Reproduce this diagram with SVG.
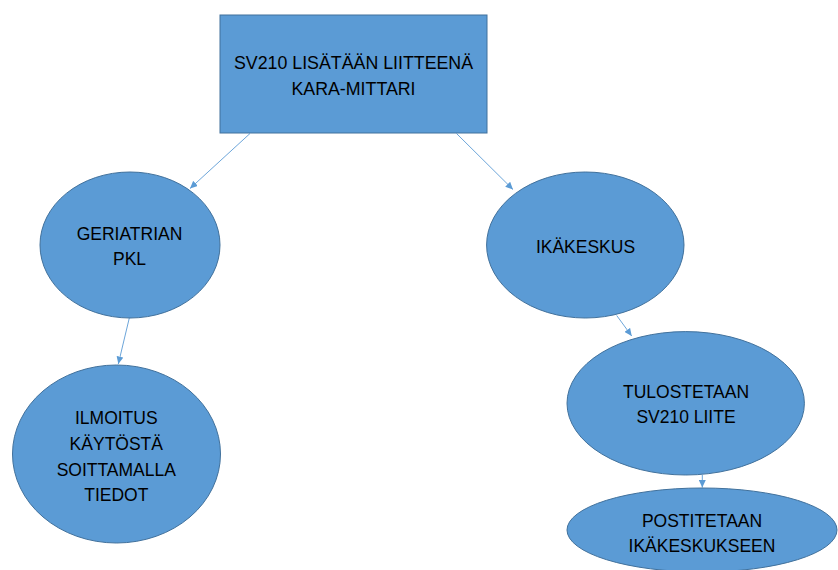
<svg xmlns="http://www.w3.org/2000/svg" width="838" height="570" viewBox="0 0 838 570">
<style>
.shape{fill:#5B9BD5;stroke:#41719C;stroke-width:1}
.lbl{font-family:"Liberation Sans",Arial,sans-serif;font-size:17.5px;fill:#000;text-anchor:middle}
.conn{stroke:#5B9BD5;stroke-width:0.9;fill:none;marker-end:url(#arr)}
</style>
<defs>
<marker id="arr" markerUnits="userSpaceOnUse" markerWidth="8" markerHeight="7" refX="7.5" refY="3.5" orient="auto">
<path d="M0,0 L7.5,3.5 L0,7 z" fill="#5B9BD5"/>
</marker>
</defs>
<rect width="838" height="570" fill="#fff"/>
<g id="connectors">
<line class="conn" x1="250" y1="133.5" x2="190" y2="188.5"/>
<line class="conn" x1="456.5" y1="133.5" x2="513" y2="189.5"/>
<line class="conn" x1="129.3" y1="318" x2="118.3" y2="364"/>
<line class="conn" x1="616.7" y1="315.5" x2="631.7" y2="336"/>
<line class="conn" x1="702.3" y1="475" x2="702.3" y2="487.5"/>
</g>
<g id="n-sv210">
<rect class="shape" x="220" y="15" width="267" height="118"/>
<text class="lbl" style="font-size:17.8px" x="353.5" y="68.5">SV210 LISÄTÄÄN LIITTEENÄ</text>
<text class="lbl" style="font-size:17.8px" x="353.5" y="95">KARA-MITTARI</text>
</g>
<g id="n-geriatrian">
<ellipse class="shape" cx="130" cy="245" rx="90" ry="73"/>
<text class="lbl" x="129.5" y="240">GERIATRIAN</text>
<text class="lbl" x="129.5" y="265">PKL</text>
</g>
<g id="n-ikakeskus">
<ellipse class="shape" cx="585.3" cy="245" rx="98.7" ry="73"/>
<text class="lbl" x="585.5" y="252.7">IKÄKESKUS</text>
</g>
<g id="n-ilmoitus">
<ellipse class="shape" cx="116.5" cy="454" rx="104" ry="89"/>
<text class="lbl" x="116.3" y="424">ILMOITUS</text>
<text class="lbl" x="116.3" y="449.8">KÄYTÖSTÄ</text>
<text class="lbl" x="116.3" y="475.6">SOITTAMALLA</text>
<text class="lbl" x="116.3" y="501.4">TIEDOT</text>
</g>
<g id="n-tulostetaan">
<ellipse class="shape" cx="685.7" cy="403.3" rx="118.7" ry="71.7"/>
<text class="lbl" x="686" y="398">TULOSTETAAN</text>
<text class="lbl" x="686" y="423">SV210 LIITE</text>
</g>
<g id="n-postitetaan">
<ellipse class="shape" cx="702" cy="530" rx="135" ry="42"/>
<text class="lbl" x="702" y="526.7">POSTITETAAN</text>
<text class="lbl" x="702" y="551.7">IKÄKESKUKSEEN</text>
</g>
</svg>
